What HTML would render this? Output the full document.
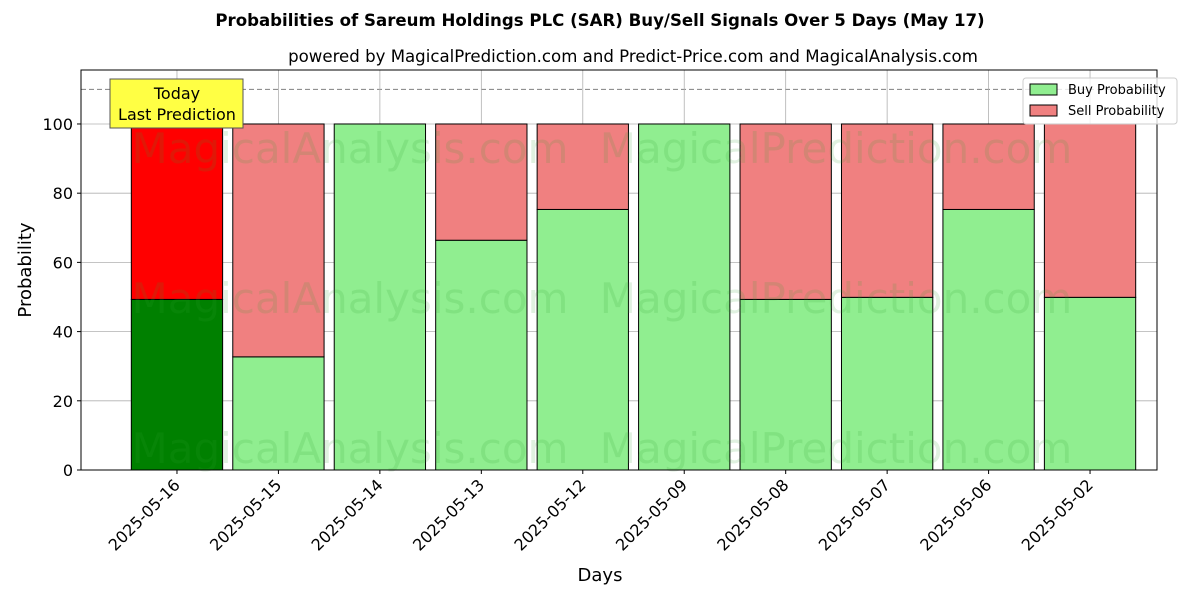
<!DOCTYPE html>
<html><head><meta charset="utf-8"><style>body{margin:0;background:#fff}svg{display:block;font-family:"DejaVu Sans","Liberation Sans",sans-serif}</style></head>
<body>
<svg id="chart" width="1200" height="600" xmlns="http://www.w3.org/2000/svg">
<text x="600" y="26" text-anchor="middle" font-size="16.6" font-weight="bold">Probabilities of Sareum Holdings PLC (SAR) Buy/Sell Signals Over 5 Days (May 17)</text>
<text x="633" y="62" text-anchor="middle" font-size="16.6">powered by MagicalPrediction.com and Predict-Price.com and MagicalAnalysis.com</text>
<g id="grid"></g>
<g id="bars"></g>
<g id="wm" font-size="42" fill="#2ca02c" fill-opacity="0.15">
<text x="350" y="163" text-anchor="middle">MagicalAnalysis.com</text><text x="836" y="163" text-anchor="middle">MagicalPrediction.com</text>
<text x="350" y="313" text-anchor="middle">MagicalAnalysis.com</text><text x="836" y="313" text-anchor="middle">MagicalPrediction.com</text>
<text x="350" y="463" text-anchor="middle">MagicalAnalysis.com</text><text x="836" y="463" text-anchor="middle">MagicalPrediction.com</text>
</g>
<g id="axes"></g>
<rect x="81" y="70" width="1076" height="400" fill="none" stroke="#000" stroke-width="1"/>
<text x="600" y="581" text-anchor="middle" font-size="18">Days</text>
<text x="31" y="270" text-anchor="middle" font-size="18" transform="rotate(-90 31 270)">Probability</text>
<g>
<rect x="110" y="79" width="133" height="49" fill="#ffff44" stroke="#555"/>
<text x="177" y="99" text-anchor="middle" font-size="16">Today</text>
<text x="177" y="120" text-anchor="middle" font-size="16">Last Prediction</text>
</g>
<g>
<rect x="1023" y="78" width="154" height="46" fill="#fff" fill-opacity="0.8" stroke="#ccc" rx="3"/>
<rect x="1030" y="84" width="27" height="11" fill="#90ee90" stroke="#000"/>
<text x="1068" y="94" font-size="13">Buy Probability</text>
<rect x="1030" y="105" width="27" height="11" fill="#f08080" stroke="#000"/>
<text x="1068" y="115" font-size="13">Sell Probability</text>
</g>
</svg>
<script>
const categories=["2025-05-16","2025-05-15","2025-05-14","2025-05-13","2025-05-12","2025-05-09","2025-05-08","2025-05-07","2025-05-06","2025-05-02"];
const buyValues=[49.3,32.7,100,66.4,75.3,100,49.3,49.9,75.3,49.9];
const sellValues=[50.7,67.3,0,33.6,24.7,0,50.7,50.1,24.7,50.1];
const yTicks=[0,20,40,60,80,100];
const NS="http://www.w3.org/2000/svg";
const X0=81,X1=1157,Y0=470,Y1=70,xmin=-0.946,xmax=9.66,ymax=115.6;
const xs=i=>X0+(i-xmin)/(xmax-xmin)*(X1-X0);
const ys=v=>Y0-v/ymax*(Y0-Y1);
function mk(t,a,p){const e=document.createElementNS(NS,t);for(const k in a)e.setAttribute(k,a[k]);p.appendChild(e);return e;}
const grid=document.getElementById('grid'),bars=document.getElementById('bars'),axes=document.getElementById('axes');
yTicks.forEach(v=>{const y=ys(v);
const l=mk('line',{x1:X0,x2:X1,y1:y,y2:y,stroke:'#b0b0b0','stroke-width':0.8},grid);


mk('line',{x1:X0-4,x2:X0,y1:y,y2:y,stroke:'#000'},axes);
const t=mk('text',{x:X0-8,y:y+6,'text-anchor':'end','font-size':16},axes);t.textContent=v;

});
const dl=mk('line',{x1:X0,x2:X1,y1:ys(110),y2:ys(110),stroke:'#808080','stroke-dasharray':'5,3'},grid);


categories.forEach((c,i)=>{const x=xs(i),w=0.9*(X1-X0)/(xmax-xmin);
const g=mk('line',{x1:x,x2:x,y1:Y1,y2:Y0,stroke:'#b0b0b0','stroke-width':0.8},grid);


const b=mk('rect',{x:x-w/2,y:ys(buyValues[i]),width:w,height:ys(0)-ys(buyValues[i]),fill:i===0?'#008000':'#90ee90',stroke:'#000'},bars);


const s=mk('rect',{x:x-w/2,y:ys(buyValues[i]+sellValues[i]),width:w,height:ys(buyValues[i])-ys(buyValues[i]+sellValues[i]),fill:i===0?'#ff0000':'#f08080',stroke:'#000'},bars);


mk('line',{x1:x,x2:x,y1:Y0,y2:Y0+4,stroke:'#000'},axes);
const t=mk('text',{x:x+4,y:Y0+16,'text-anchor':'end','font-size':16,transform:`rotate(-45 ${x+4} ${Y0+16})`},axes);t.textContent=c;

});
</script>
</body></html>
